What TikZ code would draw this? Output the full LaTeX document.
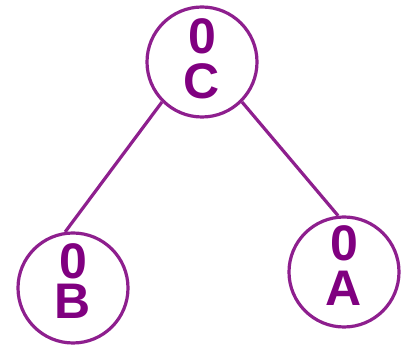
\documentclass[tikz,border=0pt]{standalone}
\usepackage{fontspec}
\setmainfont{Liberation Sans}
\begin{document}
\definecolor{ringcol}{HTML}{8E1F8E}
\definecolor{textcol}{HTML}{800080}
\begin{tikzpicture}[x=1pt,y=1pt,
  vertex/.style={circle,draw=ringcol,line width=3.2pt,minimum size=110pt,inner sep=0pt},
  tag/.style={text=textcol,anchor=base,inner sep=0pt,text height=36pt,text depth=0pt,
    font=\fontsize{50}{50}\selectfont\bfseries},
  edge/.style={draw=ringcol,line width=3.2pt}]
\useasboundingbox (0,0) rectangle (409,347);
% the three vertices
\node[vertex] (C) at (202,285) {};
\node[vertex] (B) at (73,59) {};
\node[vertex] (A) at (344,75) {};
% vertex labels: count above name
\node[tag] (cC) at (202,293) {0};
\node[tag] (nC) at (202,248) {C};
\node[tag] (cB) at (73,68) {0};
\node[tag] (nB) at (73,28) {B};
\node[tag] (cA) at (344,86) {0};
\node[tag] (nA) at (344,41) {A};
% tree edges
\draw[edge] (C.225) -- (B.98);
\draw[edge] (C.315) -- (A.96);
\end{tikzpicture}
\end{document}
